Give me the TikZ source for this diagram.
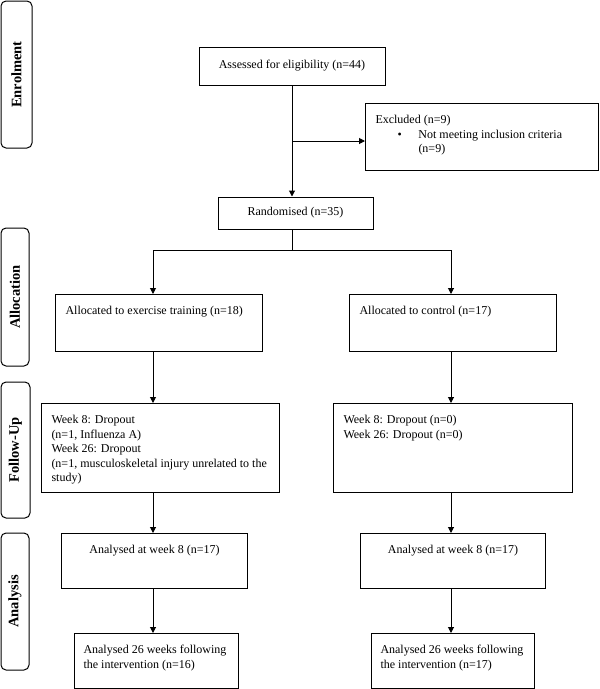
\documentclass[tikz,border=0pt]{standalone}
\usepackage{fontspec}
\setmainfont{Liberation Serif}
\usetikzlibrary{arrows.meta}

% boxes are placed by their top left corner, in pixels of the page
\tikzset{
  box/.style={draw, line width=1pt, inner xsep=10pt, inner ysep=10pt,
    anchor=north west, font=\fontsize{12}{14.5}\selectfont},
  midbox/.style={draw, line width=1pt, inner sep=0pt,
    font=\fontsize{12}{14.5}\selectfont},
  stage/.style={draw, line width=1pt, rounded corners=5pt, rotate=90,
    inner sep=0pt, font=\fontsize{14.5}{16}\selectfont\bfseries},
  arr/.style={line width=1pt, -{Triangle[length=6pt,width=6pt]}},
}
\newcommand\cell[3]{\parbox[t][#2][t]{#1}{\raggedright\strut #3}}
\newcommand\midcell[3]{\parbox[t][#2][t]{#1}{\centering\strut #3}}

\begin{document}
\begin{tikzpicture}[x=1pt,y=-1pt]
  \useasboundingbox (0,0) rectangle (600,689);

  % stages
  \node[stage, minimum width=147pt, minimum height=31pt] (enrol) at (16.5,74.5) {Enrolment};
  \node[stage, minimum width=138pt, minimum height=28pt] (alloc) at (15,297) {Allocation};
  \node[stage, minimum width=136pt, minimum height=29pt] (follow) at (15.5,450) {Follow-Up};
  \node[stage, minimum width=137pt, minimum height=28pt] (anal) at (15,601.5) {Analysis};

  % enrolment
  \node[midbox, minimum width=186pt, minimum height=38pt] (assess) at (292,66) {Assessed for eligibility (n=44)};
  \node[box] (excl) at (365,103) {\cell{213pt}{47pt}{Excluded (n=9)\\
    \hspace*{22pt}\makebox[21pt][l]{\textbullet}\parbox[t]{150pt}{Not meeting inclusion criteria\\(n=9)}}};
  \node[midbox, minimum width=155pt, minimum height=32pt] (rand) at (295.5,213) {Randomised (n=35)};

  % allocation
  \node[box] (exer) at (55,294) {\cell{187pt}{37pt}{Allocated to exercise training (n=18)}};
  \node[box] (ctrl) at (349,294) {\cell{187pt}{37pt}{Allocated to control (n=17)}};

  % follow-up
  \node[box] (fuexer) at (41,403) {\cell{218pt}{69pt}{Week 8: Dropout\\(n=1, Influenza A)\\Week 26: Dropout\\
    (n=1, musculoskeletal injury unrelated to the\\study)}};
  \node[box] (fuctrl) at (333,403) {\cell{219pt}{69pt}{Week 8: Dropout (n=0)\\Week 26: Dropout (n=0)}};

  % analysis
  \node[box] (wkexer) at (61,533) {\midcell{166pt}{35pt}{Analysed at week 8 (n=17)}};
  \node[box] (wkctrl) at (360,533) {\midcell{165pt}{35pt}{Analysed at week 8 (n=17)}};
  \node[box, inner xsep=9pt] (endexer) at (74,633) {\cell{146pt}{35pt}{Analysed 26 weeks following\\the intervention (n=16)}};
  \node[box, inner xsep=9pt] (endctrl) at (371,633) {\cell{145pt}{35pt}{Analysed 26 weeks following\\the intervention (n=17)}};

  % connectors
  \coordinate (split) at (292,141);
  \coordinate (fork) at (292,250);
  \coordinate (colL) at (153,250);
  \coordinate (colR) at (451,250);
  \draw[arr] (assess.south) -- (assess.south |- rand.north);
  \draw[arr] (split) -- (split -| excl.west);
  \draw[line width=1pt] (fork |- rand.south) -- (fork);
  \draw[line width=1pt] (colL) -- (colR);
  \draw[arr] (colL) -- (colL |- exer.north);
  \draw[arr] (colR) -- (colR |- ctrl.north);
  \begin{scope}[arr]
    \draw (colL |- exer.south) -- (colL |- fuexer.north);
    \draw (colR |- ctrl.south) -- (colR |- fuctrl.north);
    \draw (colL |- fuexer.south) -- (colL |- wkexer.north);
    \draw (colR |- fuctrl.south) -- (colR |- wkctrl.north);
    \draw (colL |- wkexer.south) -- (colL |- endexer.north);
    \draw (colR |- wkctrl.south) -- (colR |- endctrl.north);
  \end{scope}
\end{tikzpicture}
\end{document}
